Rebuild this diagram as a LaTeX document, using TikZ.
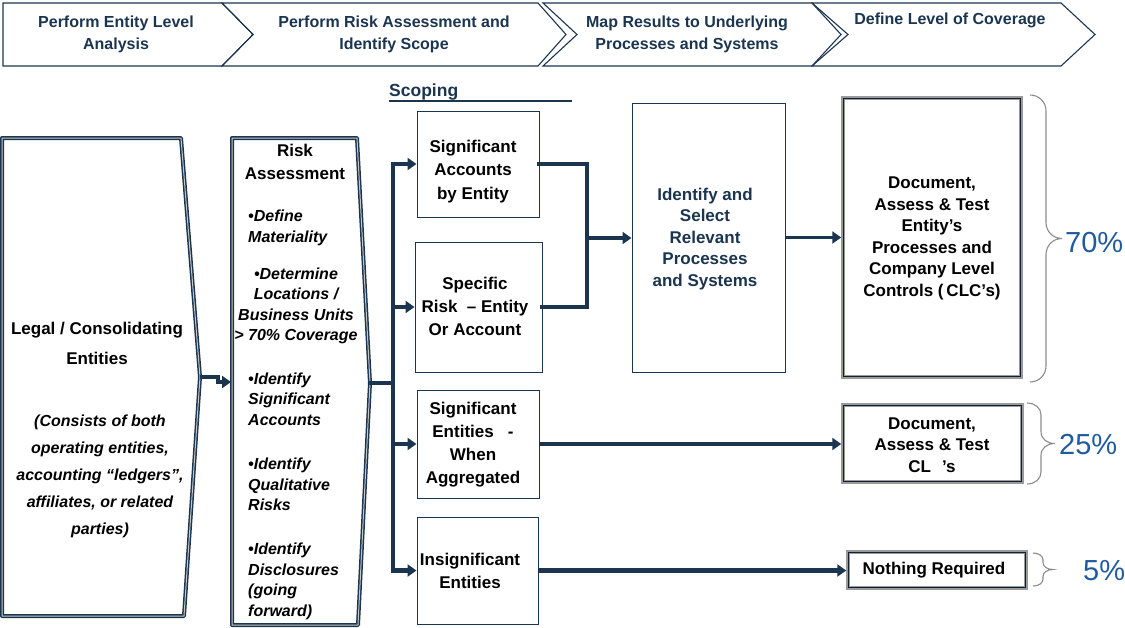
\documentclass[tikz,border=0pt]{standalone}
\usepackage{fontspec}
\setmainfont{Liberation Sans}
\usetikzlibrary{arrows.meta,calc}
\definecolor{navy}{HTML}{1B3550}
\definecolor{pctblue}{HTML}{1F5B9E}
\definecolor{bracegray}{HTML}{8C8C8C}
\definecolor{framegray}{HTML}{9A9A9A}
\tikzset{
  hdr/.style={draw=navy, line width=1.1pt, line join=miter},
  hdrtext/.style={text=navy, font=\fontsize{16}{22}\selectfont\bfseries, align=center},
  bodytext/.style={font=\fontsize{17}{22}\selectfont\bfseries, align=center, inner sep=0pt},
  plainbox/.style={draw=navy, line width=1pt, fill=white, inner sep=0pt},
  framebox/.style={draw=framegray, line width=3.5pt, fill=white, inner sep=0pt},
  innerframe/.style={draw=navy!60!black, line width=0.9pt},
  entitybox/.style={draw=navy, line width=1.5pt, double=gray!45, double distance=1pt, fill=white, line join=round},
  riskitem/.style={font=\fontsize{16}{20.5}\selectfont\bfseries\itshape, align=left, inner sep=0pt, anchor=west},
  feed/.style={draw=navy, line width=4.6pt, line cap=rect},
  flow/.style={draw=navy, line width=4.6pt, -{Triangle[length=9pt,width=12pt]}},
  bracestyle/.style={draw=bracegray, line width=1.1pt},
  pct/.style={text=pctblue, font=\fontsize{29}{32}\selectfont, anchor=west, inner sep=0pt},
}
\begin{document}
\begin{tikzpicture}[x=1pt,y=-1pt]
\useasboundingbox (0,0) rectangle (1125,627);

% ---- phase banner ----
\draw[hdr] (3,3) -- (222,3) -- (253,34.5) -- (222,66) -- (3,66) -- cycle;
\draw[hdr] (222,3) -- (538,3) -- (566,34.5) -- (538,66) -- (222,66) -- (253,34.5) -- cycle;
\draw[hdr] (543,3) -- (812,3) -- (848,34.5) -- (812,66) -- (543,66) -- (577,34.5) -- cycle;
\draw[hdr] (812,3) -- (1061,3) -- (1095,34.5) -- (1061,66) -- (812,66) -- (841,34.5) -- cycle;
\node[hdrtext] (h1) at (116,34) {Perform Entity Level\\Analysis};
\node[hdrtext] (h2) at (394,34) {Perform Risk Assessment and\\Identify Scope};
\node[hdrtext] (h3) at (687,34) {Map Results to Underlying\\Processes and Systems};
\node[hdrtext] (h4) at (950,20) {Define Level of Coverage};

% ---- entity analysis ----
\draw[entitybox] (2,138) -- (181,138) -- (200,377) -- (184,616) -- (2,616) -- cycle;
\coordinate (legaltip) at (200,377);
\node[font=\fontsize{17}{30}\selectfont\bfseries, align=center] (legaltitle) at (97,343) {Legal / Consolidating\\Entities};
\node[font=\fontsize{16}{27}\selectfont\bfseries\itshape, align=center] (legalnote) at (100,476)
  {(Consists of both\\operating entities,\\accounting “ledgers”,\\affiliates, or related\\parties)};

% ---- risk assessment ----
\draw[entitybox] (232,138) -- (357,138) -- (370,383) -- (358,625) -- (232,625) -- cycle;
\coordinate (riskin) at (231,382);
\coordinate (risktip) at (370,383);
\node[font=\fontsize{17}{23}\selectfont\bfseries, align=center] (risktitle) at (295,161.5) {Risk\\Assessment};
\node[riskitem] (r1) at (248,228) {\textbullet Define\\Materiality};
\node[riskitem, align=center, anchor=center] (r2) at (296,306) {\textbullet Determine\\Locations /\\Business Units\\> 70\% Coverage};
\node[riskitem] (r3) at (248,399) {\textbullet Identify\\Significant\\Accounts};
\node[riskitem] (r4) at (248,484.5) {\textbullet Identify\\Qualitative\\Risks};
\node[riskitem] (r5) at (248,581.5) {\textbullet Identify\\Disclosures\\(going\\forward)};

% ---- scoping ----
\node[anchor=west, text=navy, font=\fontsize{17.5}{20}\selectfont\bfseries, inner sep=0pt] (scoping) at (389,92) {Scoping};
\coordinate (ulend) at (572,101);
\draw[navy, line width=1.5pt] (scoping.west |- ulend) -- (ulend);

\node[plainbox, minimum width=122, minimum height=106] (sigacc) at (478,164) {};
\node[bodytext, font=\fontsize{17}{23.5}\selectfont\bfseries] (sigacctext) at (473,171.5) {Significant\\Accounts\\by Entity};
\node[plainbox, minimum width=127, minimum height=130] (specrisk) at (478.5,307) {};
\node[bodytext, font=\fontsize{17}{23}\selectfont\bfseries] (specrisktext) at (475,306) {Specific\\Risk\ \ – Entity\\Or Account};
\node[plainbox, minimum width=122, minimum height=108] (sigent) at (478,444) {};
\node[bodytext, font=\fontsize{17}{23}\selectfont\bfseries] (sigenttext) at (473,444.5) {Significant\\Entities\ \ \ -\\When\\Aggregated};
\node[plainbox, minimum width=121, minimum height=107] (insig) at (477.5,570.5) {};
\node[bodytext, font=\fontsize{17}{22.5}\selectfont\bfseries] (insigtext) at (470,571) {Insignificant\\Entities};

% ---- processes and systems ----
\node[plainbox, minimum width=153, minimum height=269] (identify) at (708.5,237.5) {};
\node[bodytext, text=navy, font=\fontsize{17}{21.5}\selectfont\bfseries] (identifytext) at (705,239) {Identify and\\Select\\Relevant\\Processes\\and Systems};

% ---- coverage ----
\node[framebox, minimum width=178, minimum height=279] (doc) at (932,237.5) {};
\draw[innerframe] ([shift={(2.2,2.2)}]doc.north west) rectangle ([shift={(-2.2,-2.2)}]doc.south east);
\node[bodytext, font=\fontsize{17}{21.5}\selectfont\bfseries] (doctext) at (932,238.5) {Document,\\Assess \& Test\\Entity’s\\Processes and\\Company Level\\Controls (\,CLC’s)};

\node[framebox, minimum width=179, minimum height=77] (cl) at (932.5,443.5) {};
\draw[innerframe] ([shift={(2.2,2.2)}]cl.north west) rectangle ([shift={(-2.2,-2.2)}]cl.south east);
\node[bodytext, font=\fontsize{17}{21.5}\selectfont\bfseries] (cltext) at (932,445) {Document,\\Assess \& Test\\CL\hspace{11pt}’s};

\node[framebox, minimum width=178, minimum height=36] (nothing) at (937,570) {};
\draw[innerframe] ([shift={(2.2,2.2)}]nothing.north west) rectangle ([shift={(-2.2,-2.2)}]nothing.south east);
\node[bodytext] (nothingtext) at (934,570) {Nothing Required};

% ---- connectors ----
\draw[flow] (legaltip) -- ++(18,0) |- (riskin);
\coordinate (bus) at (393,383);
\draw[feed] (risktip) -- (bus);
\draw[flow] (bus) |- (sigacc.west);
\draw[flow] (bus) |- (specrisk.west);
\draw[flow] (bus) |- (sigent.west);
\draw[flow] (bus) |- (insig.west);

\coordinate (merge) at (587,238);
\draw[feed] (sigacc.east) -| (merge);
\draw[feed] (specrisk.east) -| (merge);
\draw[flow] (merge) -- (merge -| identify.west);
\draw[flow, line width=3.4pt] (identify.east) -- (doc.west);
\draw[flow] (sigent.east) -- (sigent.east -| cl.west);
\draw[flow] (insig.east) -- (insig.east -| nothing.west);

% ---- coverage braces ----
\draw[bracestyle] (1030,95) .. controls (1039,95) and (1046,102) .. (1046,111) -- (1046,222.5)
  .. controls (1046,231.5) and (1053,238.5) .. (1062,238.5)
  .. controls (1053,238.5) and (1046,245.5) .. (1046,254.5) -- (1046,366)
  .. controls (1046,375) and (1039,382) .. (1030,382);
\draw[bracestyle] (1027,403) .. controls (1035,403) and (1041,408) .. (1041,415) -- (1041,431.5)
  .. controls (1041,439) and (1047,443.5) .. (1055,443.5)
  .. controls (1047,443.5) and (1041,448) .. (1041,455.5) -- (1041,472)
  .. controls (1041,479) and (1035,484) .. (1027,484);
\draw[bracestyle] (1033,553) .. controls (1039,553) and (1043,556) .. (1043,560) -- (1043,562.5)
  .. controls (1043,566.5) and (1047,569.5) .. (1053,569.5)
  .. controls (1047,569.5) and (1043,572.5) .. (1043,576.5) -- (1043,579)
  .. controls (1043,583) and (1039,586) .. (1033,586);
\node[pct] (p70) at (1065,243) {70\%};
\node[pct] (p25) at (1059,445) {25\%};
\node[pct] (p5) at (1083,571) {5\%};
\end{tikzpicture}
\end{document}
